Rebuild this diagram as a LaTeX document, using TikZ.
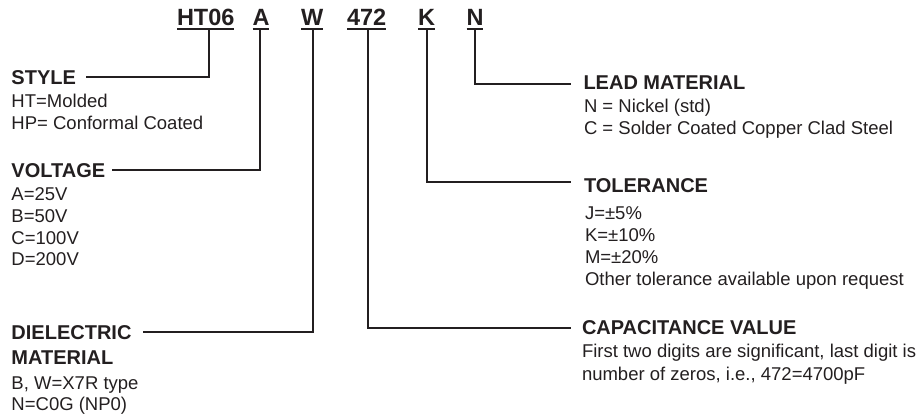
\documentclass[tikz,border=0pt]{standalone}
\usepackage{fontspec}
\setmainfont{Liberation Sans}
\definecolor{ink}{HTML}{231F20}
\begin{document}
\begin{tikzpicture}[x=1pt,y=-1pt,
  every node/.style={inner sep=0pt,outer sep=0pt,anchor=base west,text=ink},
  code/.style={font=\bfseries\fontsize{23.5}{26}\selectfont},
  head/.style={font=\bfseries\fontsize{20}{24}\selectfont},
  body/.style={font=\fontsize{18.5}{22}\selectfont},
  conn/.style={draw=ink,line width=2pt},
  uline/.style={draw=ink,line width=1.8pt}]
\useasboundingbox (0,0) rectangle (922,414);
% part number codes
\node[code] (cHT) at (177,26) {HT06};
\node[code] (cA)  at (252.5,26) {A};
\node[code] (cW)  at (301,26) {W};
\node[code] (cV)  at (347,26) {472};
\node[code] (cK)  at (418,26) {K};
\node[code] (cN)  at (466.5,26) {N};
\foreach \n in {cHT,cA,cW,cV,cK,cN}{
  \draw[uline] ([yshift=-3.3pt]\n.base west) -- ([yshift=-3.3pt]\n.base east);
}
% STYLE
\node[head] (hStyle) at (11.5,85) {STYLE};
\node[body] (s1) at (11.5,107.5) {HT=Molded};
\node[body] (s2) at (11.5,129.5) {HP= Conformal Coated};
% VOLTAGE
\node[head] (hVolt) at (11.5,178) {VOLTAGE};
\node[body] (v1) at (11.5,201) {A=25V};
\node[body] (v2) at (11.5,222.5) {B=50V};
\node[body] (v3) at (11.5,244.3) {C=100V};
\node[body] (v4) at (11.5,266) {D=200V};
% DIELECTRIC
\node[head] (hDiel) at (11.5,340) {DIELECTRIC};
\node[head] (hDiel2) at (11.5,365) {MATERIAL};
\node[body] (d1) at (11.5,389) {B, W=X7R type};
\node[body] (d2) at (11.5,410.5) {N=C0G (NP0)};
% LEAD MATERIAL
\node[head] (hLead) at (583.5,90) {LEAD MATERIAL};
\node[body] (l1) at (584,112.5) {N = Nickel (std)};
\node[body] (l2) at (584,134.5) {C = Solder Coated Copper Clad Steel};
% TOLERANCE
\node[head] (hTol) at (584,193) {TOLERANCE};
\node[body] (t1) at (585,220) {J=±5\%};
\node[body] (t2) at (585,242) {K=±10\%};
\node[body] (t3) at (585,264) {M=±20\%};
\node[body] (t4) at (585,286) {Other tolerance available upon request};
% CAPACITANCE
\node[head] (hCap) at (582,335) {CAPACITANCE VALUE};
\node[body] (k1) at (582,358) {First two digits are significant, last digit is};
\node[body] (k2) at (582,381) {number of zeros, i.e., 472=4700pF};
% connector anchor points
\coordinate (pHT) at (209.3,30);  \coordinate (eStyle) at (86,77);
\coordinate (pA)  at (259.5,30);  \coordinate (eVolt)  at (112,170);
\coordinate (pW)  at (312.7,30);  \coordinate (eDiel)  at (143,331.7);
\coordinate (pV)  at (367.5,30);  \coordinate (eCap)   at (571,328);
\coordinate (pK)  at (427,30);    \coordinate (eTol)   at (571,181.7);
\coordinate (pN)  at (474.7,30);  \coordinate (eLead)  at (571,84.3);
\draw[conn] (pHT) |- (eStyle);
\draw[conn] (pA)  |- (eVolt);
\draw[conn] (pW)  |- (eDiel);
\draw[conn] (pV)  |- (eCap);
\draw[conn] (pK)  |- (eTol);
\draw[conn] (pN)  |- (eLead);
\end{tikzpicture}
\end{document}
